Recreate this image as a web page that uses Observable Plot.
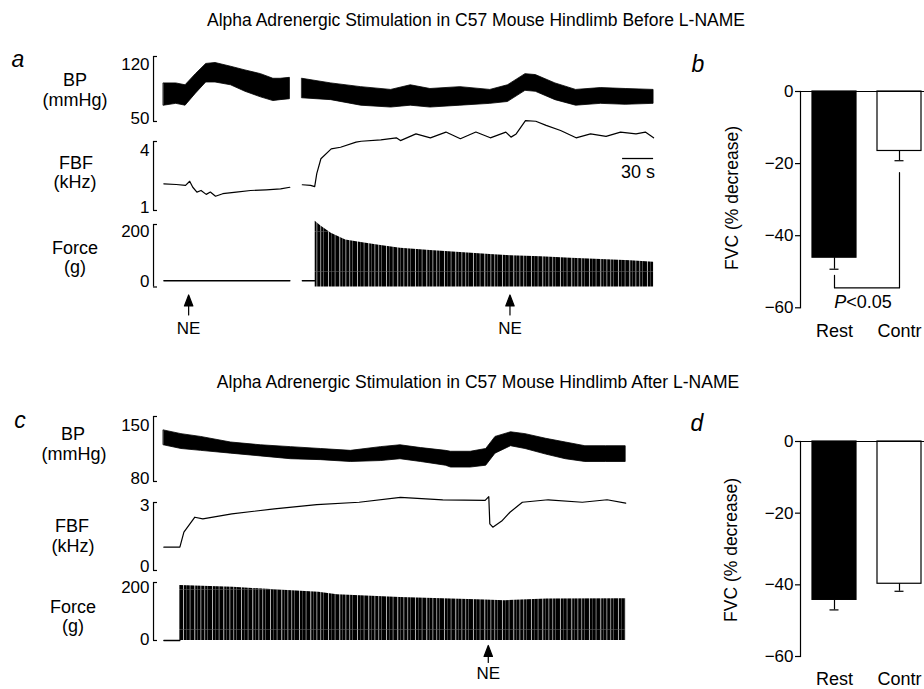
<!DOCTYPE html>
<html>
<head>
<meta charset="utf-8">
<script src="https://cdn.jsdelivr.net/npm/d3@7"></script>
<script src="https://cdn.jsdelivr.net/npm/@observablehq/plot@0.6"></script>
<style>
  body { margin: 0; background: #fff; }
  #fig { position: relative; width: 924px; height: 689px; overflow: hidden; background: #fff;
         font-family: "Liberation Sans", Arial, Helvetica, sans-serif; color: #000; }
  .lbl { position: absolute; white-space: nowrap; line-height: 1; transform: translate(-50%, -50%); }
</style>
</head>
<body>
<svg width="0" height="0" style="position:absolute">
  <defs>
    <pattern id="forceHatch" width="29" height="40" patternUnits="userSpaceOnUse">
      <rect width="29" height="40" fill="#000"></rect>
      <rect x="1.5" width="0.6" height="40" fill="#fff"></rect>
      <rect x="4.2" width="0.4" height="40" fill="#ccc"></rect>
      <rect x="9.3" width="0.7" height="40" fill="#fff"></rect>
      <rect x="12.1" width="0.4" height="40" fill="#999"></rect>
      <rect x="15.8" width="0.5" height="40" fill="#fff"></rect>
      <rect x="20.4" width="0.8" height="40" fill="#eee"></rect>
      <rect x="23.0" width="0.4" height="40" fill="#aaa"></rect>
      <rect x="26.6" width="0.6" height="40" fill="#fff"></rect>
      <rect y="17" width="29" height="0.5" fill="#666"></rect>
    </pattern>
  </defs>
</svg>
<div id="fig"></div>
<script>
// ---------------- data ----------------
const titleA = "Alpha Adrenergic Stimulation in C57 Mouse Hindlimb Before L-NAME";
const titleC = "Alpha Adrenergic Stimulation in C57 Mouse Hindlimb After L-NAME";

// Panel a — time (s), BP lower/upper (mmHg)
const bpA1 = [[0,67,91],[12,69,91],[21,67,89],[31,80,101],[41,92,112],[50,92,113],[65,89,109],[79,82,105],[94,76,101],[106,72,96],[113,73,96],[122,74,97]];
const bpA2 = [[134,75,96],[162,73,91],[191,67,87],[220,65,84],[239,67,89],[258,65,85],[287,67,87],[316,69,84],[333,71,89],[350,83,101],[360,82,100],[379,73,91],[399,67,84],[423,69,86],[447,68,85],[474,69,84]];
// Panel a — FBF (kHz)
const fbfA1 = [[0,2.16],[12,2.13],[21,2.09],[25,2.27],[28,2.01],[32,1.80],[36,1.87],[41,1.70],[45,1.80],[50,1.62],[57,1.73],[70,1.80],[84,1.87],[99,1.90],[113,1.94],[122,2.01]];
const fbfA2 = [[134,2.12],[142,2.09],[146,2.04],[148,2.60],[152,3.25],[162,3.68],[171,3.75],[186,3.97],[191,4.01],[210,4.07],[225,4.16],[229,4.04],[244,4.33],[258,4.16],[273,4.41],[287,4.12],[302,4.41],[316,4.16],[331,4.41],[336,4.19],[341,4.33],[350,4.91],[360,4.88],[370,4.70],[384,4.48],[399,4.16],[413,4.33],[428,4.22],[442,4.41],[457,4.33],[466,4.41],[474,4.16]];
// Panel a — Force (g): resting baseline and contraction peak envelope
const forceA1 = [[0,20],[122,20]];
const forceA2base = [[134,20],[146,20]];
const forceA2peaks = [[146.5,210],[152,195],[162,172],[176,150],[191,142],[210,133],[229,124],[258,117],[287,110],[316,104],[336,100],[365,97],[394,92],[423,88],[452,84],[474,79]];
const neA = [24, 335];

// Panel c
const bpC = [[0,119,135],[17,115,131],[36,113,128],[65,110,122],[94,107,119],[123,104,117],[152,103,115],[181,101,113],[210,102,117],[229,104,119],[249,101,116],[273,97,113],[278,95,112],[297,95,112],[312,97,115],[321,110,128],[336,118,133],[350,115,131],[370,109,126],[389,104,122],[408,101,118],[428,101,118],[447,101,118]];
const fbfC = [[0,1.03],[15.5,1.03],[19.4,1.69],[30,2.35],[37.7,2.28],[65.8,2.50],[107,2.72],[148,2.91],[189,3.01],[229,3.23],[270,3.12],[311,3.09],[314.5,3.26],[315.5,2.06],[318.4,1.91],[327,2.18],[335,2.57],[347,3.01],[372,3.12],[405,3.01],[429,3.12],[447,2.97]];
const forceCbase = [[0,0],[15.5,0]];
const forceCpeaks = [[15.5,190],[67,184],[120,172],[150,166],[168,158],[229,148],[311,140],[330,137],[371,143],[447,144]];
const neC = [314];

// axis ticks
const bpTicksA = [50, 120], fbfTicksA = [1, 4], forceTicks = [0, 200];
const bpTicksC = [80, 150], fbfTicksC = [0, 3];
const scaleBarSeconds = 30;

// Bars (FVC % decrease)
const groups = ["Rest", "Contr"];
const fvcB = [-46.1, -16.5], semB = [3.2, 2.7];
const fvcD = [-44.2, -39.7], semD = [2.8, 2.1];
const fvcTicks = [0, -20, -40, -60];
const sigPathB = [["Rest", -51], ["Rest", -54.5], ["Contr", -54.5], ["Contr", -22.5]];

// ---------------- layout helpers ----------------
const fig = document.getElementById("fig");
const FONT = "'Liberation Sans', Arial, Helvetica, sans-serif";
const PX_PER_S = 31 / 30;
const baseStyle = {fontFamily: FONT, fontSize: "17px", color: "black", background: "transparent", overflow: "visible", maxWidth: "none"};

function put(svg, left, top) {
  svg.style.position = "absolute";
  svg.style.left = left + "px";
  svg.style.top = top + "px";
  fig.appendChild(svg);
}
function label(html, cx, cy, size, extra = {}) {
  const d = document.createElement("div");
  d.className = "lbl";
  d.innerHTML = html;
  d.style.left = cx + "px";
  d.style.top = cy + "px";
  d.style.fontSize = size + "px";
  Object.assign(d.style, extra);
  fig.appendChild(d);
}
function bracket(x0, [lo, hi], dyTop = 8, dyBot = -3) {
  return [
    Plot.ruleX([x0], {y1: lo, y2: hi, strokeWidth: 1.2}),
    Plot.ruleY([lo, hi], {x1: x0, x2: x0 + 4 / PX_PER_S, strokeWidth: 1.2}),
    Plot.axisY([hi], {tickSize: 0, tickPadding: 4, dy: dyTop, label: null}),
    Plot.axisY([lo], {tickSize: 0, tickPadding: 4, dy: dyBot, label: null})
  ];
}
function tracePlot({xDomain, yDomain, top, bottom, mt = 10, mb = 10, marks}) {
  const left = 153;
  const frameW = (xDomain[1] - xDomain[0]) * PX_PER_S;
  const svg = Plot.plot({
    width: left + frameW + 10,
    height: (bottom - top) + mt + mb,
    marginLeft: left, marginRight: 10, marginTop: mt, marginBottom: mb,
    x: {domain: xDomain, axis: null},
    y: {domain: yDomain, axis: null},
    style: baseStyle,
    marks
  });
  put(svg, 0, top - mt);
}
const arrowShape = {
  draw(ctx, l) {
    ctx.moveTo(0, 0); ctx.lineTo(0, -l);
    ctx.moveTo(-4.2, -l + 11); ctx.lineTo(0, -l); ctx.lineTo(4.2, -l + 11); ctx.closePath();
  }
};
function neMarks(times, dyTip, dyEnd, dyText) {
  const d = times.map(t => ({t}));
  return [
    Plot.vector(d, {x: "t", frameAnchor: "bottom", dy: dyEnd, length: dyEnd - dyTip, rotate: 0, anchor: "start",
                    shape: arrowShape, fill: "black", stroke: "black", strokeWidth: 1.2}),
    Plot.text(d, {x: "t", frameAnchor: "bottom", lineAnchor: "middle", dy: dyText, text: () => "NE", fontSize: 17})
  ];
}
const T = d => d[0], LO = d => d[1], HI = d => d[2], V = d => d[1];

// ---------------- texts ----------------
label(titleA, 476, 21, 17.5);
label(titleC, 478, 383, 17.5);
label("a", 18, 59, 23, {fontStyle: "italic"});
label("b", 698, 64, 23, {fontStyle: "italic"});
label("c", 20, 420, 23, {fontStyle: "italic"});
label("d", 697, 423, 23, {fontStyle: "italic"});

label("BP", 75, 80, 18); label("(mmHg)", 75, 100, 18);
label("FBF", 76, 163, 18); label("(kHz)", 75, 182, 18);
label("Force", 75, 248, 18); label("(g)", 75, 267, 18);
label("30 s", 638, 172, 18);

label("BP", 73, 434, 18); label("(mmHg)", 74, 454, 18);
label("FBF", 72, 526, 18); label("(kHz)", 73, 546, 18);
label("Force", 73, 607, 18); label("(g)", 73, 626, 18);

label("FVC (% decrease)", 733, 198, 17.5, {transform: "translate(-50%,-50%) rotate(-90deg)"});
label("FVC (% decrease)", 732, 550, 17.5, {transform: "translate(-50%,-50%) rotate(-90deg)"});
label("<i>P</i>&lt;0.05", 863, 302, 18);

// ---------------- panel a ----------------
const xA = [-10, 474];
tracePlot({xDomain: xA, yDomain: bpTicksA, top: 56, bottom: 121, mt: 20, marks: [
  ...bracket(xA[0], bpTicksA),
  Plot.areaY(bpA1, {x: T, y1: LO, y2: HI, fill: "black", stroke: "black", strokeWidth: 0.8}),
  Plot.areaY(bpA2, {x: T, y1: LO, y2: HI, fill: "black", stroke: "black", strokeWidth: 0.8})
]});
tracePlot({xDomain: xA, yDomain: fbfTicksA, top: 141, bottom: 210, mt: 30, marks: [
  ...bracket(xA[0], fbfTicksA, 9, -3),
  Plot.line(fbfA1, {x: T, y: V, stroke: "black", strokeWidth: 1.2}),
  Plot.line(fbfA2, {x: T, y: V, stroke: "black", strokeWidth: 1.2}),
  Plot.ruleY([3.26], {x1: xA[1] - scaleBarSeconds, x2: xA[1], strokeWidth: 1.3})
]});
tracePlot({xDomain: xA, yDomain: forceTicks, top: 224, bottom: 286.5, mt: 10, mb: 55, marks: [
  ...bracket(xA[0], forceTicks, 7, -5),
  Plot.line(forceA1, {x: T, y: V, stroke: "black", strokeWidth: 1.3}),
  Plot.line(forceA2base, {x: T, y: V, stroke: "black", strokeWidth: 1.3}),
  Plot.areaY(forceA2peaks, {x: T, y1: 0, y2: V, fill: "url(#forceHatch)"}),
  ...neMarks(neA, 8, 28, 42)
]});

// ---------------- panel c ----------------
const xC = [-10, 447];
tracePlot({xDomain: xC, yDomain: bpTicksC, top: 416, bottom: 481, mt: 20, marks: [
  ...bracket(xC[0], bpTicksC, 9, -3),
  Plot.areaY(bpC, {x: T, y1: LO, y2: HI, fill: "black", stroke: "black", strokeWidth: 0.8})
]});
tracePlot({xDomain: xC, yDomain: fbfTicksC, top: 502, bottom: 570, mt: 20, marks: [
  ...bracket(xC[0], fbfTicksC, 3, -4),
  Plot.line(fbfC, {x: T, y: V, stroke: "black", strokeWidth: 1.2})
]});
tracePlot({xDomain: xC, yDomain: forceTicks, top: 582, bottom: 640, mt: 10, mb: 48, marks: [
  ...bracket(xC[0], forceTicks, 5, -1),
  Plot.line(forceCbase, {x: T, y: V, stroke: "black", strokeWidth: 1.3}),
  Plot.areaY(forceCpeaks, {x: T, y1: 0, y2: V, fill: "url(#forceHatch)"}),
  ...neMarks(neC, 5, 22, 33)
]});

// ---------------- bar panels ----------------
function barPlot({vals, sems, top, bottom, sig}) {
  const data = groups.map((g, i) => ({g, v: vals[i], lo: vals[i] - sems[i]}));
  const mL = 100, mT = 10, mB = 40;
  const marks = [
    Plot.barY(data.filter(d => d.g === "Rest"), {x: "g", y: "v", fill: "black", stroke: "black", strokeWidth: 1.2}),
    Plot.barY(data.filter(d => d.g === "Contr"), {x: "g", y: "v", fill: "white", stroke: "black", strokeWidth: 1.2}),
    Plot.ruleX(data, {x: "g", y1: "v", y2: "lo", strokeWidth: 1.2}),
    Plot.tickY(data, {x: "g", y: "lo", inset: 17.5, strokeWidth: 1.2}),
    Plot.ruleY([0], {strokeWidth: 1.2}),
    Plot.frame({anchor: "left", strokeWidth: 1.2}),
    Plot.axisY(fvcTicks, {tickSize: 5, tickPadding: 2, label: null, strokeWidth: 1.2}),
    Plot.axisX(groups, {tickSize: 0, tickPadding: 16, label: null, fontSize: 18})
  ];
  if (sig) marks.push(Plot.line(sig, {x: d => d[0], y: d => d[1], stroke: "black", strokeWidth: 1.2}));
  const svg = Plot.plot({
    width: mL + 133, height: (bottom - top) + mT + mB,
    marginLeft: mL, marginRight: 0, marginTop: mT, marginBottom: mB,
    x: {domain: groups, paddingInner: 0.318, paddingOuter: 0.167, axis: null},
    y: {domain: [-60, 0], axis: null},
    style: baseStyle,
    marks
  });
  put(svg, 800 - mL, top - mT);
}
barPlot({vals: fvcB, sems: semB, top: 90.7, bottom: 307, sig: sigPathB});
barPlot({vals: fvcD, sems: semD, top: 441, bottom: 656});
</script>
</body>
</html>
